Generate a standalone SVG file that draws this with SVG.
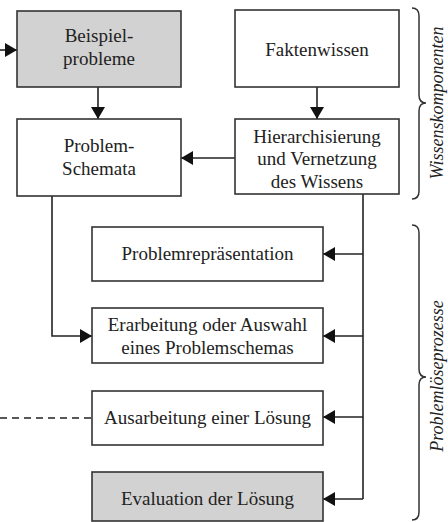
<svg xmlns="http://www.w3.org/2000/svg" width="448" height="522" viewBox="0 0 448 522">
<style>
.box{fill:#fff;stroke:#333;stroke-width:1.6}
.gray{fill:#d2d2d2}
.t{font-family:"Liberation Serif","Times New Roman",serif;font-size:19px;fill:#222;text-anchor:middle}
.side{font-family:"Liberation Serif","Times New Roman",serif;font-size:18px;font-style:italic;fill:#222;text-anchor:middle}
.c{fill:none;stroke:#222;stroke-width:1.6}
.br{fill:none;stroke:#333;stroke-width:1.5}
</style>
<defs>
<marker id="ah" markerUnits="userSpaceOnUse" markerWidth="13" markerHeight="14" refX="12" refY="7" orient="auto">
<path d="M0,0 L12,7 L0,14 z" fill="#111"/>
</marker>
</defs>
<g id="connectors">
<line class="c" x1="0" y1="50" x2="17" y2="50" marker-end="url(#ah)"/>
<line class="c" x1="98" y1="87" x2="98" y2="119" marker-end="url(#ah)"/>
<line class="c" x1="317" y1="87" x2="317" y2="119" marker-end="url(#ah)"/>
<line class="c" x1="235" y1="158" x2="181" y2="158" marker-end="url(#ah)"/>
<polyline class="c" points="52,196 52,336 92,336" marker-end="url(#ah)"/>
<line class="c" x1="363" y1="194" x2="363" y2="499"/>
<line class="c" x1="363" y1="254" x2="323" y2="254" marker-end="url(#ah)"/>
<line class="c" x1="363" y1="336" x2="323" y2="336" marker-end="url(#ah)"/>
<line class="c" x1="363" y1="417" x2="323" y2="417" marker-end="url(#ah)"/>
<line class="c" x1="363" y1="499" x2="323" y2="499" marker-end="url(#ah)"/>
<line class="c" x1="0" y1="418" x2="92" y2="418" stroke-dasharray="7,5"/>
</g>
<g id="beispielprobleme">
<rect class="box gray" x="17" y="11" width="164" height="76"/>
<text class="t" x="99" y="42">Beispiel-</text>
<text class="t" x="99" y="65">probleme</text>
</g>
<g id="problemschemata">
<rect class="box" x="17" y="119" width="164" height="77"/>
<text class="t" x="99" y="152">Problem-</text>
<text class="t" x="99" y="175">Schemata</text>
</g>
<g id="faktenwissen">
<rect class="box" x="235" y="10" width="164" height="77"/>
<text class="t" x="317" y="56">Faktenwissen</text>
</g>
<g id="hierarchisierung">
<rect class="box" x="235" y="119" width="164" height="75"/>
<text class="t" x="317" y="143">Hierarchisierung</text>
<text class="t" x="317" y="165">und Vernetzung</text>
<text class="t" x="317" y="187.5">des Wissens</text>
</g>
<g id="problemrepraesentation">
<rect class="box" x="92" y="227" width="231" height="54"/>
<text class="t" x="207.5" y="260">Problemrepräsentation</text>
</g>
<g id="erarbeitung">
<rect class="box" x="92" y="308" width="231" height="55"/>
<text class="t" x="207.5" y="331">Erarbeitung oder Auswahl</text>
<text class="t" x="207.5" y="354">eines Problemschemas</text>
</g>
<g id="ausarbeitung">
<rect class="box" x="92" y="391" width="231" height="54"/>
<text class="t" x="207.5" y="424">Ausarbeitung einer Lösung</text>
</g>
<g id="evaluation">
<rect class="box gray" x="92" y="472" width="231" height="49"/>
<text class="t" x="207.5" y="505">Evaluation der Lösung</text>
</g>
<g id="wissenskomponenten">
<path class="br" d="M412,8 Q419,8 419,16 L419,95 Q419,103 426,103 Q419,103 419,111 L419,191 Q419,199 412,199"/>
<text class="side" transform="translate(443,103) rotate(-90)">Wissenskomponenten</text>
</g>
<g id="problemloeseprozesse">
<path class="br" d="M412,225 Q419,225 419,233 L419,369 Q419,377 426,377 Q419,377 419,385 L419,512 Q419,520 412,520"/>
<text class="side" transform="translate(443,376) rotate(-90)">Problemlöseprozesse</text>
</g>
</svg>
